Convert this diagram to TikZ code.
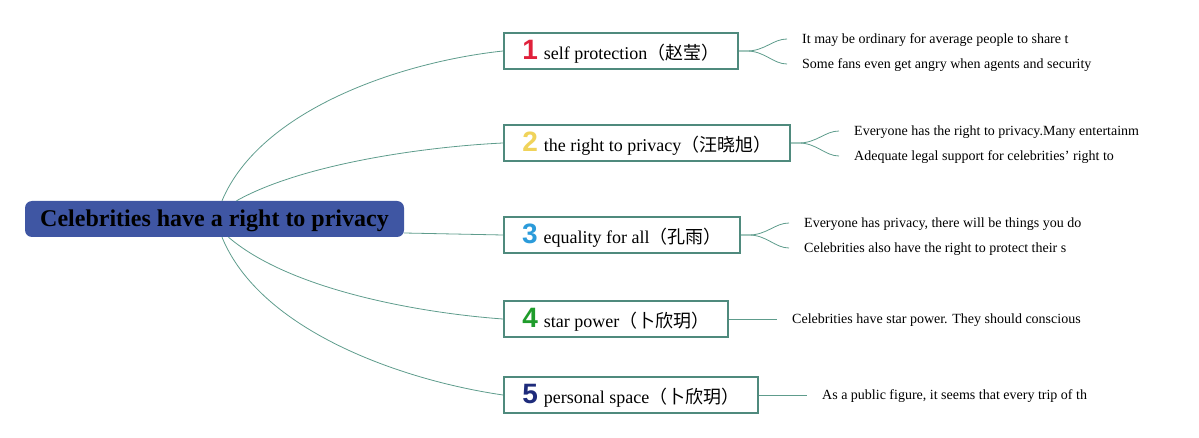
\documentclass[tikz,border=0pt]{standalone}
\usepackage{fontspec}
\setmainfont{Liberation Serif}
\newfontfamily\cjk{Noto Sans CJK SC}
\newfontfamily\digitfont{Liberation Sans}
\usetikzlibrary{positioning}
\definecolor{rootblue}{HTML}{3F56A3}
\definecolor{edgeteal}{HTML}{5E9C8C}
\definecolor{boxteal}{HTML}{4F8A7D}
\definecolor{numred}{HTML}{E0213B}
\definecolor{numyellow}{HTML}{F0D35A}
\definecolor{numblue}{HTML}{2B9BDA}
\definecolor{numgreen}{HTML}{1F9C2B}
\definecolor{numnavy}{HTML}{1E2B7B}
\tikzset{branch/.style={draw=edgeteal, line width=0.8pt}}
\tikzset{topic/.style={draw=boxteal, line width=1.8pt, fill=white, minimum height=36pt, anchor=west, inner sep=0pt, text depth=2pt, font=\fontsize{18}{21}\selectfont}}
\tikzset{leaf/.style={anchor=west, inner sep=0pt, text depth=0pt, font=\fontsize{14}{16}\selectfont}}
\tikzset{root/.style={fill=rootblue, rounded corners=7pt, minimum width=379pt, minimum height=36pt, inner sep=0pt, text depth=2pt, font=\fontsize{24}{27}\selectfont\bfseries}}
\newcommand{\num}[2]{{\digitfont\bfseries\fontsize{28}{28}\selectfont\color{#1}#2}\hspace{6pt}}

\begin{document}
\begin{tikzpicture}[x=1pt,y=-1pt]
\useasboundingbox (0,0) rectangle (1199,438);
\node[root] (cel) at (214.5,219) {Celebrities have a right to privacy};
\node[topic, minimum width=234pt] (b1) at (503,51) {\num{numred}{1}self protection{\cjk（赵莹）}};
\node[topic, minimum width=286pt] (b2) at (503,143) {\num{numyellow}{2}the right to privacy{\cjk（汪晓旭）}};
\node[topic, minimum width=236pt] (b3) at (503,235) {\num{numblue}{3}equality for all{\cjk（孔雨）}};
\node[topic, minimum width=224pt] (b4) at (503,319) {\num{numgreen}{4}star power{\cjk（卜欣玥）}};
\node[topic, minimum width=254pt] (b5) at (503,395) {\num{numnavy}{5}personal space{\cjk（卜欣玥）}};
% leaves
\node[leaf] (t11) at (802,39) {It may be ordinary for average people to share t};
\node[leaf] (t12) at (802,64) {Some fans even get angry when agents and security};
\node[leaf] (t21) at (854,131) {Everyone has the right to privacy.Many entertainm};
\node[leaf] (t22) at (854,156) {Adequate legal support for celebrities' right to};
\node[leaf] (t31) at (804,223) {Everyone has privacy, there will be things you do};
\node[leaf] (t32) at (804,248) {Celebrities also have the right to protect their s};
\node[leaf] (t41) at (792,319) {Celebrities have star power. They should conscious};
\node[leaf] (t51) at (822,395) {As a public figure, it seems that every trip of th};
% root to topics
\draw[branch] ([xshift=7.5pt]cel.north) .. controls (260,110) and (400,62) .. (b1.west);
\draw[branch] ([xshift=22pt]cel.north) .. controls (300,165) and (420,147) .. (b2.west);
\draw[branch] ([yshift=-14pt]cel.east) -- (b3.west);
\draw[branch] ([xshift=14pt]cel.south) .. controls (290,290) and (420,313) .. (b4.west);
\draw[branch] ([xshift=7.5pt]cel.south) .. controls (260,330) and (400,380) .. (b5.west);
% topics to leaves
\draw[branch] (b1.east) -- +(8,0) .. controls +(18,0) and +(-14,0) .. ([xshift=-15pt]t11.west);
\draw[branch] (b1.east) -- +(8,0) .. controls +(18,0) and +(-14,0) .. ([xshift=-15pt]t12.west);
\draw[branch] (b2.east) -- +(8,0) .. controls +(18,0) and +(-14,0) .. ([xshift=-15pt]t21.west);
\draw[branch] (b2.east) -- +(8,0) .. controls +(18,0) and +(-14,0) .. ([xshift=-15pt]t22.west);
\draw[branch] (b3.east) -- +(8,0) .. controls +(18,0) and +(-14,0) .. ([xshift=-15pt]t31.west);
\draw[branch] (b3.east) -- +(8,0) .. controls +(18,0) and +(-14,0) .. ([xshift=-15pt]t32.west);
\draw[branch] (b4.east) -- ([xshift=-15pt]t41.west);
\draw[branch] (b5.east) -- ([xshift=-15pt]t51.west);
\end{tikzpicture}
\end{document}
